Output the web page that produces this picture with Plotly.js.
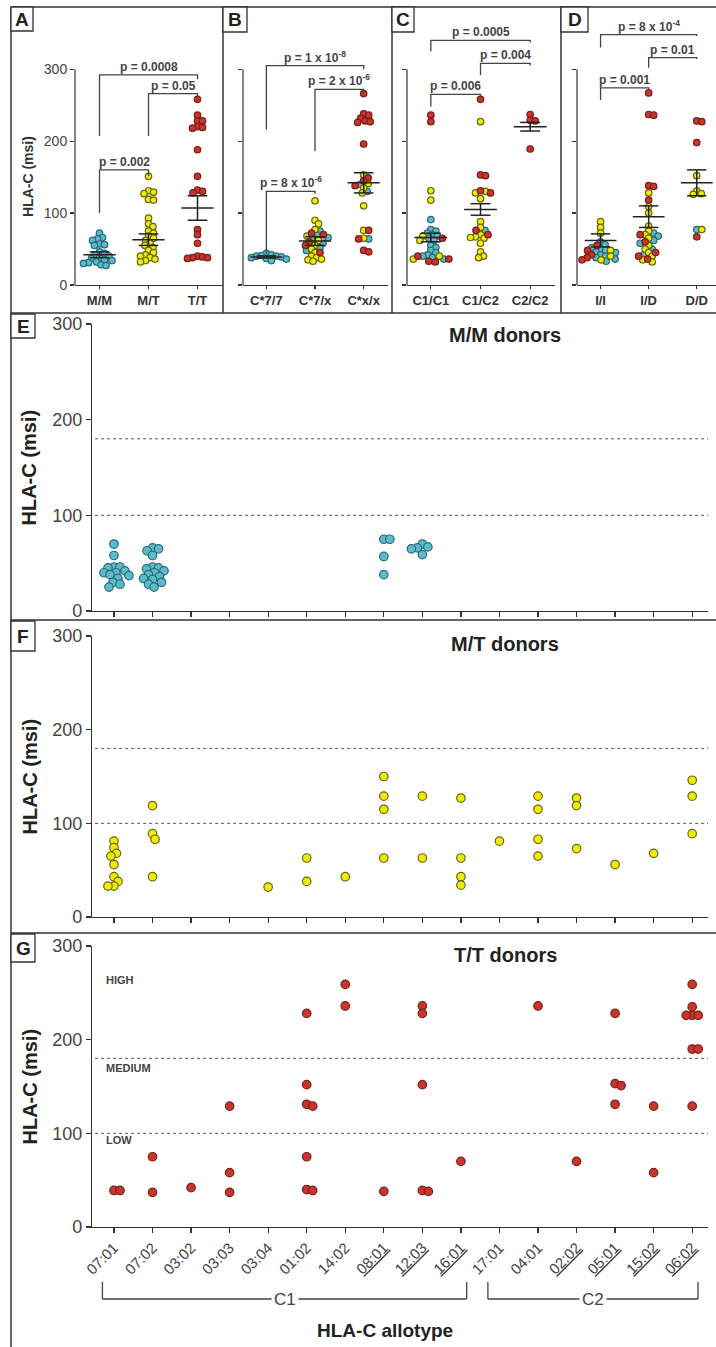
<!DOCTYPE html>
<html><head><meta charset="utf-8">
<script src="https://cdn.plot.ly/plotly-3.0.1.min.js"></script>
<style>html,body{margin:0;padding:0;background:#fff}#chart{width:716px;height:1347px}</style>
</head><body><div id="chart"></div>
<script>
// ================= DATA =================
// Panel A
const aCategories = ['M/M','M/T','T/T'];
const aTeal   = [[72,66,64,62,57,56,55,46,44,42,40,38,37,35,34,32,31,30,28,27], [], []];
const aYellow = [[], [151,131,129,127,119,118,93,85,81,75,72,68,65,62,58,55,52,48,45,42,40,38,36,34,32], []];
const aRed    = [[], [], [258,236,228,228,220,219,218,188,151,132,130,128,77,70,58,40,39,38,38,37]];
const aMean = [42, 63, 107];
const aSem  = [4, 8, 17];
const aPairs = [[0,2],[1,2],[0,1]];
const aPText = ['p = 0.0008','p = 0.05','p = 0.002'];
const aBarTop = [292, 266, 160];
const aBarLeftEnd = [207, 207, 100];
const aBarRightEnd = [286, 262, 151];

// Panel B
const bCategories = ['C*7/7','C*7/x','C*x/x'];
const bTeal   = [[44,42,41,40,40,39,38,37,36,34], [75,70,66,64,58,52,48], [140,130,64]];
const bYellow = [[], [117,90,85,77,68,62,55,50,45,40,38,36,35,33], [153,141,135,128,110,76,65]];
const bRed    = [[], [72,70,60,55,45], [266,238,236,232,228,227,226,196,149,145,138,76,64,48,46]];
const bMean = [39, 61, 142];
const bSem  = [1.5, 6, 14];
const bPairs = [[0,2],[1,2],[0,1]];
const bPText = ['p = 1 x 10<sup>-8</sup>','p = 2 x 10<sup>-6</sup>','p = 8 x 10<sup>-6</sup>'];
const bBarTop = [305, 272, 130];
const bBarLeftEnd = [216, 186, 43];
const bBarRightEnd = [300, 267, 127];

// Panel C
const cCategories = ['C1/C1','C1/C2','C2/C2'];
const cTeal   = [[91,77,75,72,70,68,65,62,55,52,48,45,42,40,38,36], [76], []];
const cYellow = [[131,118,68,62,40,36], [227,130,128,120,88,80,70,67,66,65,58,46,40,38], []];
const cRed    = [[236,227,65,40,36,33,32], [258,153,152,131,128,76,70], [237,229,228,189]];
const cMean = [66, 105, 220];
const cSem  = [6, 8, 6];
const cPairs = [[0,2],[1,2],[0,1]];
const cPText = ['p = 0.0005','p = 0.004','p = 0.006'];
const cBarTop = [340, 308, 265];
const cBarLeftEnd = [325, 292, 248];
const cBarRightEnd = [337, 305, 261];

// Panel D
const dCategories = ['I/I','I/D','D/D'];
const dTeal   = [[60,56,52,50,48,46,45,42,40,38,36,33], [72,68,62,58,50,42], [77]];
const dYellow = [[88,80,72,48,40,35], [128,109,100,82,75,70,65,55,50,45,40,35,32], [152,131,127,126,77]];
const dRed    = [[55,48,42,38,35], [267,237,236,138,137,118,70,60,45,40,36], [228,227,198,67]];
const dMean = [62, 95, 142];
const dSem  = [9, 15, 18];
const dPairs = [[0,2],[1,2],[0,1]];
const dPText = ['p = 8 x 10<sup>-4</sup>','p = 0.01','p = 0.001'];
const dBarTop = [348, 316, 274];
const dBarLeftEnd = [330, 302, 257];
const dBarRightEnd = [346, 314, 271];

// Panels E-G: HLA-C allotypes
const allotypes = ['07:01','07:02','03:02','03:03','03:04','01:02','14:02','08:01','12:03','16:01','17:01','04:01','02:02','05:01','15:02','06:02'];
const allotypeUnderlined = [false,false,false,false,false,false,false,true,true,true,false,false,true,true,true,true];
const allotypeGroup = ['C1','C1','C1','C1','C1','C1','C1','C1','C1','C1','C2','C2','C2','C2','C2','C2'];
const mmDonors = [
  [70,58,46,46,45,42,40,40,38,37,34,30,28,25],
  [66,65,63,58,46,45,44,42,40,38,36,34,33,30,28,25],
  [],[],[],[],[],
  [75,75,57,38],
  [70,67,66,65,59],
  [],[],[],[],[],[],[]
];
const mtDonors = [
  [81,74,68,65,56,43,38,33,33],
  [119,89,83,43],
  [],[],
  [32],
  [63,38],
  [43],
  [150,129,115,63],
  [129,63],
  [127,63,43,34],
  [81],
  [129,115,83,65],
  [127,119,73],
  [56],
  [68],
  [146,129,89]
];
const ttDonors = [
  [39,39],
  [75,37],
  [42],
  [129,58,37],
  [],
  [228,152,131,129,75,40,39],
  [259,236],
  [38],
  [236,228,152,39,38],
  [70],
  [],
  [236],
  [70],
  [228,153,151,131],
  [129,58],
  [259,235,226,226,226,190,190,129]
];
const levelThresholds = [100, 180];
const levelNames = ['LOW','MEDIUM','HIGH'];
const panelTitles = ['M/M donors','M/T donors','T/T donors'];

// ================= STYLE / LAYOUT =================
const W = 716, H = 1347;
const px = v => v / W;
const py = v => 1 - v / H;
const FONT = "'Liberation Sans', Arial, sans-serif";
const INK = '#333';
const COL = {
  teal:   {fill:'#5BBBCB', line:'#2B6B78'},
  yellow: {fill:'#EEEA0C', line:'#6A6808'},
  red:    {fill:'#C8352C', line:'#78201A'}
};

const traces = [], shapes = [], annotations = [];
const layout = {
  width: W, height: H, margin:{l:0,r:0,t:0,b:0},
  paper_bgcolor:'#fff', plot_bgcolor:'rgba(0,0,0,0)', showlegend:false,
  font:{family:FONT, color:INK}
};

function keys(n){
  return n===1 ? {xk:'xaxis',yk:'yaxis',xr:'x',yr:'y'} : {xk:'xaxis'+n,yk:'yaxis'+n,xr:'x'+n,yr:'y'+n};
}

function swarm(nCats, groups, unitPx, catPx, diam){
  const out = {};
  for (const g in groups) out[g] = {x:[], y:[]};
  const d2 = diam*diam;
  for (let c=0;c<nCats;c++){
    const items = [];
    for (const g in groups) (groups[g][c]||[]).forEach(v=>items.push({v,g}));
    items.sort((a,b)=>b.v-a.v);
    const placed = [];
    items.forEach(it=>{
      const yp = it.v*unitPx;
      let dx = 0;
      for (let k=0;k<600;k++){
        const cand = (k%2 ? 1 : -1)*Math.ceil(k/2)*0.5;
        if (placed.every(p => (p.dx-cand)*(p.dx-cand)+(p.yp-yp)*(p.yp-yp) >= d2)){ dx = cand; break; }
      }
      placed.push({dx, yp});
      out[it.g].x.push(c + dx/catPx);
      out[it.g].y.push(it.v);
    });
  }
  return out;
}

function labelBox(letter, x0, y0, x1, y1){
  shapes.push({type:'rect', xref:'paper', yref:'paper', x0:px(x0), x1:px(x1), y0:py(y1), y1:py(y0),
    line:{color:INK, width:1.3}, fillcolor:'#fff', layer:'above'});
  annotations.push({xref:'paper', yref:'paper', x:px((x0+x1)/2), y:py((y0+y1)/2), text:'<b>'+letter+'</b>',
    showarrow:false, font:{size:19, color:'#222'}, xanchor:'center', yanchor:'middle'});
}

// ---------- top panels ----------
const TOP_Y0 = 285, TOP_Y1 = 8, TOP_MAX = 385;
function addTop(n, cfg){
  const {xk,yk,xr,yr} = keys(n);
  const unitPx = (TOP_Y0-TOP_Y1)/TOP_MAX;
  const catPx = (cfg.xPx[1]-cfg.xPx[0])/(cfg.xRange[1]-cfg.xRange[0]);
  layout[xk] = {domain:[px(cfg.xPx[0]), px(cfg.xPx[1])], range:cfg.xRange, anchor:yr,
    tickvals:cfg.cats.map((c,i)=>i), ticktext:cfg.cats, ticks:'outside', ticklen:3, tickwidth:1.2, tickcolor:INK,
    showline:true, linecolor:INK, linewidth:1.2, showgrid:false, zeroline:false,
    tickfont:{size:13, weight:'bold', color:'#333'}, fixedrange:true};
  layout[yk] = {domain:[py(TOP_Y0), py(TOP_Y1)], range:[0,TOP_MAX], anchor:xr,
    tickvals:[0,100,200,300], ticks:'outside', ticklen:4, tickwidth:1.2, tickcolor:INK,
    showline:false, showgrid:false, zeroline:false, showticklabels:cfg.yLabels,
    tickfont:{size:14, color:'#444'}, fixedrange:true};
  shapes.push({type:'line', xref:xr+' domain', yref:yr, x0:0, x1:0, y0:0, y1:300, line:{color:INK, width:1.2}});
  const sw = swarm(3, {teal:cfg.teal, yellow:cfg.yellow, red:cfg.red}, unitPx, catPx, 5);
  ['teal','yellow','red'].forEach(g=>{
    traces.push({type:'scatter', mode:'markers', x:sw[g].x, y:sw[g].y, xaxis:xr, yaxis:yr, cliponaxis:false,
      marker:{size:6.5, color:COL[g].fill, line:{color:COL[g].line, width:1.2}}, hoverinfo:'skip'});
  });
  const mx=[], my=[];
  cfg.mean.forEach((m,i)=>{
    const s = cfg.sem[i];
    mx.push(i-0.33,i+0.33,null, i,i,null, i-0.2,i+0.2,null, i-0.2,i+0.2,null);
    my.push(m,m,null, m-s,m+s,null, m+s,m+s,null, m-s,m-s,null);
  });
  traces.push({type:'scatter', mode:'lines', x:mx, y:my, xaxis:xr, yaxis:yr, cliponaxis:false,
    line:{color:'#222', width:1.5}, hoverinfo:'skip'});
  const bx=[], by=[];
  cfg.pairs.forEach((p,i)=>{
    bx.push(p[0],p[0],p[1],p[1],null);
    by.push(cfg.left[i],cfg.top[i],cfg.top[i],cfg.right[i],null);
    annotations.push({xref:xr, yref:yr, x:(p[0]+p[1])/2, y:cfg.top[i], yanchor:'bottom', xanchor:'center',
      text:'<b>'+cfg.ptext[i]+'</b>', showarrow:false, font:{size:12, color:'#444'}, yshift:-1});
  });
  traces.push({type:'scatter', mode:'lines', x:bx, y:by, xaxis:xr, yaxis:yr, cliponaxis:false,
    line:{color:'#444', width:1.3}, hoverinfo:'skip'});
}

addTop(1, {cats:aCategories, teal:aTeal, yellow:aYellow, red:aRed, mean:aMean, sem:aSem, pairs:aPairs, ptext:aPText,
  top:aBarTop, left:aBarLeftEnd, right:aBarRightEnd, xPx:[75,222], xRange:[-0.5,2.5], yLabels:true});
addTop(2, {cats:bCategories, teal:bTeal, yellow:bYellow, red:bRed, mean:bMean, sem:bSem, pairs:bPairs, ptext:bPText,
  top:bBarTop, left:bBarLeftEnd, right:bBarRightEnd, xPx:[243,388], xRange:[-0.48,2.5], yLabels:false});
addTop(3, {cats:cCategories, teal:cTeal, yellow:cYellow, red:cRed, mean:cMean, sem:cSem, pairs:cPairs, ptext:cPText,
  top:cBarTop, left:cBarLeftEnd, right:cBarRightEnd, xPx:[407,555], xRange:[-0.48,2.5], yLabels:false});
addTop(4, {cats:dCategories, teal:dTeal, yellow:dYellow, red:dRed, mean:dMean, sem:dSem, pairs:dPairs, ptext:dPText,
  top:dBarTop, left:dBarLeftEnd, right:dBarRightEnd, xPx:[577,716], xRange:[-0.49,2.4], yLabels:false});

annotations.push({xref:'paper', yref:'paper', x:px(28), y:py(177), text:'<b>HLA-C (msi)</b>', textangle:-90,
  showarrow:false, font:{size:14, color:'#333'}, xanchor:'center', yanchor:'middle'});

// ---------- allotype panels ----------
const LX0 = 92, LX1 = 708, LRANGE = [-0.57, 15.41];
const lowerPanels = [
  {n:5, data:mmDonors, color:'teal',   y0:611, y1:324, titleY:335},
  {n:6, data:mtDonors, color:'yellow', y0:917, y1:636, titleY:644},
  {n:7, data:ttDonors, color:'red',    y0:1227, y1:946, titleY:955}
];
lowerPanels.forEach((P,pi)=>{
  const {xk,yk,xr,yr} = keys(P.n);
  const unitPx = (P.y0-P.y1)/300;
  const catPx = (LX1-LX0)/(LRANGE[1]-LRANGE[0]);
  const isLast = pi===lowerPanels.length-1;
  const plainIdx = allotypes.map((a,i)=>i).filter(i=>!allotypeUnderlined[i]);
  layout[xk] = {domain:[px(LX0), px(LX1)], range:LRANGE, anchor:yr,
    tickvals: isLast ? plainIdx : allotypes.map((a,i)=>i),
    ticktext: isLast ? plainIdx.map(i=>allotypes[i]) : allotypes,
    showticklabels:isLast, tickangle:-45, tickfont:{size:15, color:'#444'},
    ticks:'outside', ticklen:5, tickwidth:1.2, tickcolor:INK,
    showline:true, linecolor:INK, linewidth:1.2, showgrid:false, zeroline:false, fixedrange:true};
  layout[yk] = {domain:[py(P.y0), py(P.y1)], range:[0,300], anchor:xr,
    tickvals:[0,100,200,300], ticks:'outside', ticklen:5, tickwidth:1.2, tickcolor:INK,
    showline:true, linecolor:INK, linewidth:1.2, showgrid:false, zeroline:false,
    tickfont:{size:18, color:'#444'}, fixedrange:true};
  levelThresholds.forEach(t=>{
    shapes.push({type:'line', xref:xr+' domain', yref:yr, x0:0.005, x1:1, y0:t, y1:t, layer:'below',
      line:{color:'#555', width:1, dash:'dot'}});
  });
  const groups = {}; groups[P.color] = P.data;
  const sw = swarm(allotypes.length, groups, unitPx, catPx, 6);
  traces.push({type:'scatter', mode:'markers', x:sw[P.color].x, y:sw[P.color].y, xaxis:xr, yaxis:yr, cliponaxis:false,
    marker:{size:8.5, color:COL[P.color].fill, line:{color:COL[P.color].line, width:1.2}}, hoverinfo:'skip'});
  annotations.push({xref:'paper', yref:'paper', x:px(505), y:py(P.titleY), text:'<b>'+panelTitles[pi]+'</b>',
    showarrow:false, font:{size:20, color:'#222'}, xanchor:'center', yanchor:'middle'});
  annotations.push({xref:'paper', yref:'paper', x:px(29), y:py((P.y0+P.y1)/2), text:'<b>HLA-C (msi)</b>', textangle:-90,
    showarrow:false, font:{size:20, color:'#222'}, xanchor:'center', yanchor:'middle'});
  if (isLast){
    const ulIdx = allotypes.map((a,i)=>i).filter(i=>allotypeUnderlined[i]);
    layout['xaxis8'] = {overlaying:xr, anchor:yr, range:LRANGE, tickvals:ulIdx, ticktext:ulIdx.map(i=>allotypes[i]),
      tickangle:-45, tickfont:{size:15, color:'#444', lineposition:'under'},
      ticks:'outside', ticklen:5, tickwidth:1.2, tickcolor:INK, showline:false, showgrid:false, zeroline:false, fixedrange:true};
    traces.push({type:'scatter', mode:'markers', x:[0], y:[-50], xaxis:'x8', yaxis:yr, marker:{opacity:0}, hoverinfo:'skip'});
    // level labels
    const bounds = [0].concat(levelThresholds).concat([300]);
    const offs = [7, 10, 36];
    levelNames.forEach((nm,i)=>{
      annotations.push({xref:xr+' domain', yref:yr, x:0.02, y:bounds[i+1]-offs[i], text:'<b>'+nm+'</b>',
        showarrow:false, xanchor:'left', yanchor:'middle', font:{size:11, color:'#444'}});
    });
    // C1 / C2 brackets
    const gNames = [...new Set(allotypeGroup)];
    gNames.forEach(g=>{
      const idx = allotypeGroup.map((v,i)=>v===g?i:-1).filter(i=>i>=0);
      const a = idx[0]-0.3, b = idx[idx.length-1]+0.15;
      const yb = py(1299), ys = py(1282);
      shapes.push({type:'line', xref:xr, yref:'paper', x0:a, x1:b, y0:yb, y1:yb, line:{color:'#444', width:1.3}});
      shapes.push({type:'line', xref:xr, yref:'paper', x0:a, x1:a, y0:yb, y1:ys, line:{color:'#444', width:1.3}});
      shapes.push({type:'line', xref:xr, yref:'paper', x0:b, x1:b, y0:yb, y1:ys, line:{color:'#444', width:1.3}});
      annotations.push({xref:xr, yref:'paper', x:(a+b)/2, y:yb, text:g, showarrow:false, bgcolor:'#fff',
        xanchor:'center', yanchor:'middle', borderpad:2, font:{size:17, color:'#444'}});
    });
    annotations.push({xref:'paper', yref:'paper', x:px(385), y:py(1330), text:'<b>HLA-C allotype</b>',
      showarrow:false, font:{size:19, color:'#222'}, xanchor:'center', yanchor:'middle'});
  }
});

// ---------- frame ----------
const frame = (x0,y0,x1,y1)=>shapes.push({type:'line', xref:'paper', yref:'paper', x0:px(x0), x1:px(x1), y0:py(y0), y1:py(y1), line:{color:INK, width:1.5}});
frame(11,7,716,7);
frame(11,7,11,1347);
frame(223,7,223,313);
frame(392,7,392,313);
frame(561,7,561,313);
frame(11,313,716,313);
frame(11,620,716,620);
frame(11,933,716,933);
labelBox('A', 11, 7, 33, 31);
labelBox('B', 223, 7, 247, 32);
labelBox('C', 392, 7, 414, 32);
labelBox('D', 561, 7, 588, 32);
labelBox('E', 11, 314, 35, 338);
labelBox('F', 11, 621, 35, 651);
labelBox('G', 11, 934, 35, 962);

layout.shapes = shapes;
layout.annotations = annotations;
Plotly.newPlot('chart', traces, layout, {staticPlot:true, displayModeBar:false});
</script>
</body></html>
